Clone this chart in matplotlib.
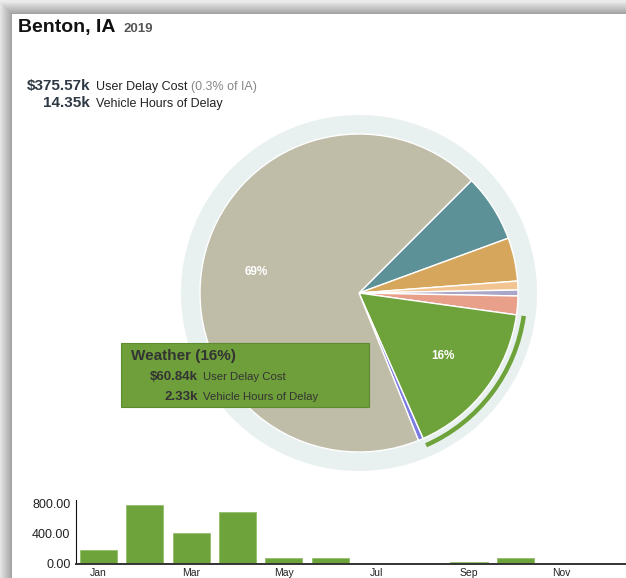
import numpy as np
import matplotlib.pyplot as plt
from matplotlib.patches import Circle, Wedge, Rectangle

plt.rcParams['font.family'] = ['Liberation Sans', 'DejaVu Sans']

# Delay cost shares (%), clockwise from the teal slice
shares = [6.9, 4.4, 0.9, 0.6, 1.9, 16.2, 0.5, 68.6]
colors = ['#5c9297', '#d5a65c', '#f2c491', '#a9a6c7', '#e8a08b', '#6ea23a', '#7b7be3', '#bfbca8']
weather_idx = 5
labelled = [5, 7]

county = 'Benton, IA'
year = '2019'
total_cost = '$375.57k'
state_share = '(0.3% of IA)'
total_hours = '14.35k'
weather_cost = '$60.84k'
weather_hours = '2.33k'

# Weather vehicle hours of delay per month
months = ['Jan', 'Feb', 'Mar', 'Apr', 'May', 'Jun', 'Jul', 'Aug', 'Sep', 'Oct', 'Nov', 'Dec']
monthly_hours = [185, 775, 410, 685, 75, 85, 3, 4, 30, 85, 4, 0]

W, H = 626, 578
fig = plt.figure(figsize=(W / 100, H / 100), dpi=100)


def px_axes(x0, y0, x1, y1):
    return fig.add_axes([x0 / W, 1 - y1 / H, (x1 - x0) / W, (y1 - y0) / H])


# background with the card shadow
bg = px_axes(0, 0, W, H)
bg.set_xlim(0, W)
bg.set_ylim(H, 0)
bg.axis('off')
xx, yy = np.meshgrid(np.arange(W), np.arange(H))
d = np.maximum(12 - xx, 14 - yy).astype(float)
shade = np.where(d > 0, 0.62 + 0.3 * np.clip(d / 13, 0, 1), 1.0)
bg.imshow(shade, cmap='gray', vmin=0, vmax=1, extent=(0, W, H, 0), aspect='auto')

# pie
R = 159
ax = px_axes(359 - 200, 293 - 200, 359 + 200, 293 + 200)
wedges, _ = ax.pie(shares, colors=colors, startangle=45, counterclock=False, radius=1,
                   wedgeprops=dict(edgecolor='white', linewidth=1))
ax.add_patch(Circle((0, 0), 178 / R, fc='#e9f1f0', ec='none', zorder=0))
w = wedges[weather_idx]
ax.add_patch(Wedge((0, 0), 1.06, w.theta1, w.theta2, width=0.028, fc=colors[weather_idx], ec='none'))
for i in labelled:
    wi = wedges[i]
    mid = np.deg2rad((wi.theta1 + wi.theta2) / 2)
    ax.text(0.66 * np.cos(mid), 0.66 * np.sin(mid), f'{shares[i]:.0f}%', color='white',
            fontsize=8.5, fontweight='bold', ha='center', va='center')
ax.set_xlim(-200 / R, 200 / R)
ax.set_ylim(-200 / R, 200 / R)
ax.set_aspect('equal')

# monthly bars
bx = px_axes(76, 500, W, 564)
x = np.arange(len(months))
bx.bar(x, monthly_hours, width=0.8, color='#6ea23a', edgecolor='#93c06a', linewidth=0.6)
bx.set_xlim(-0.486, 11.39)
bx.set_ylim(0, 840)
bx.set_yticks([0, 400, 800])
bx.set_yticklabels([f'{v:.2f}' for v in [0, 400, 800]], fontsize=9, color='#222222')
bx.set_xticks(x[::2])
bx.set_xticklabels(months[::2], fontsize=7.5, color='#222222')
bx.tick_params(length=0, pad=4)
bx.tick_params(axis='x', pad=3)
for s in ['top', 'right']:
    bx.spines[s].set_visible(False)
bx.spines['left'].set_color('#111111')
bx.spines['left'].set_linewidth(0.8)
bx.spines['bottom'].set_color('#333333')
bx.spines['bottom'].set_linewidth(1.4)
bx.patch.set_alpha(0)

# text overlay
ov = px_axes(0, 0, W, H)
ov.set_xlim(0, W)
ov.set_ylim(H, 0)
ov.axis('off')
ov.patch.set_alpha(0)

dark = '#2e3944'
ov.text(18, 32, county, fontsize=14, fontweight='bold', color='#111111', va='baseline')
ov.text(123, 32, year, fontsize=9.5, fontweight='bold', color='#555555', va='baseline')

ov.text(90, 90, total_cost, fontsize=11, fontweight='bold', color=dark, ha='right', va='baseline')
ov.text(96, 90, 'User Delay Cost', fontsize=9, color='#222222', va='baseline')
ov.text(191, 90, state_share, fontsize=9, color='#888888', va='baseline')
ov.text(90, 107, total_hours, fontsize=11, fontweight='bold', color=dark, ha='right', va='baseline')
ov.text(96, 107, 'Vehicle Hours of Delay', fontsize=9, color='#222222', va='baseline')

ov.add_patch(Rectangle((121, 343), 248, 64, fc='#6e9f3a', ec='#5e8a30', lw=0.8))
ov.text(131, 360, 'Weather (16%)', fontsize=11, fontweight='bold', color='#333333', va='baseline')
ov.text(198, 380, weather_cost, fontsize=9.5, fontweight='bold', color='#333333', ha='right', va='baseline')
ov.text(203, 380, 'User Delay Cost', fontsize=8.2, color='#333333', va='baseline')
ov.text(198, 400, weather_hours, fontsize=9.5, fontweight='bold', color='#333333', ha='right', va='baseline')
ov.text(203, 400, 'Vehicle Hours of Delay', fontsize=8.2, color='#333333', va='baseline')

fig.savefig('out.png', dpi=100)
